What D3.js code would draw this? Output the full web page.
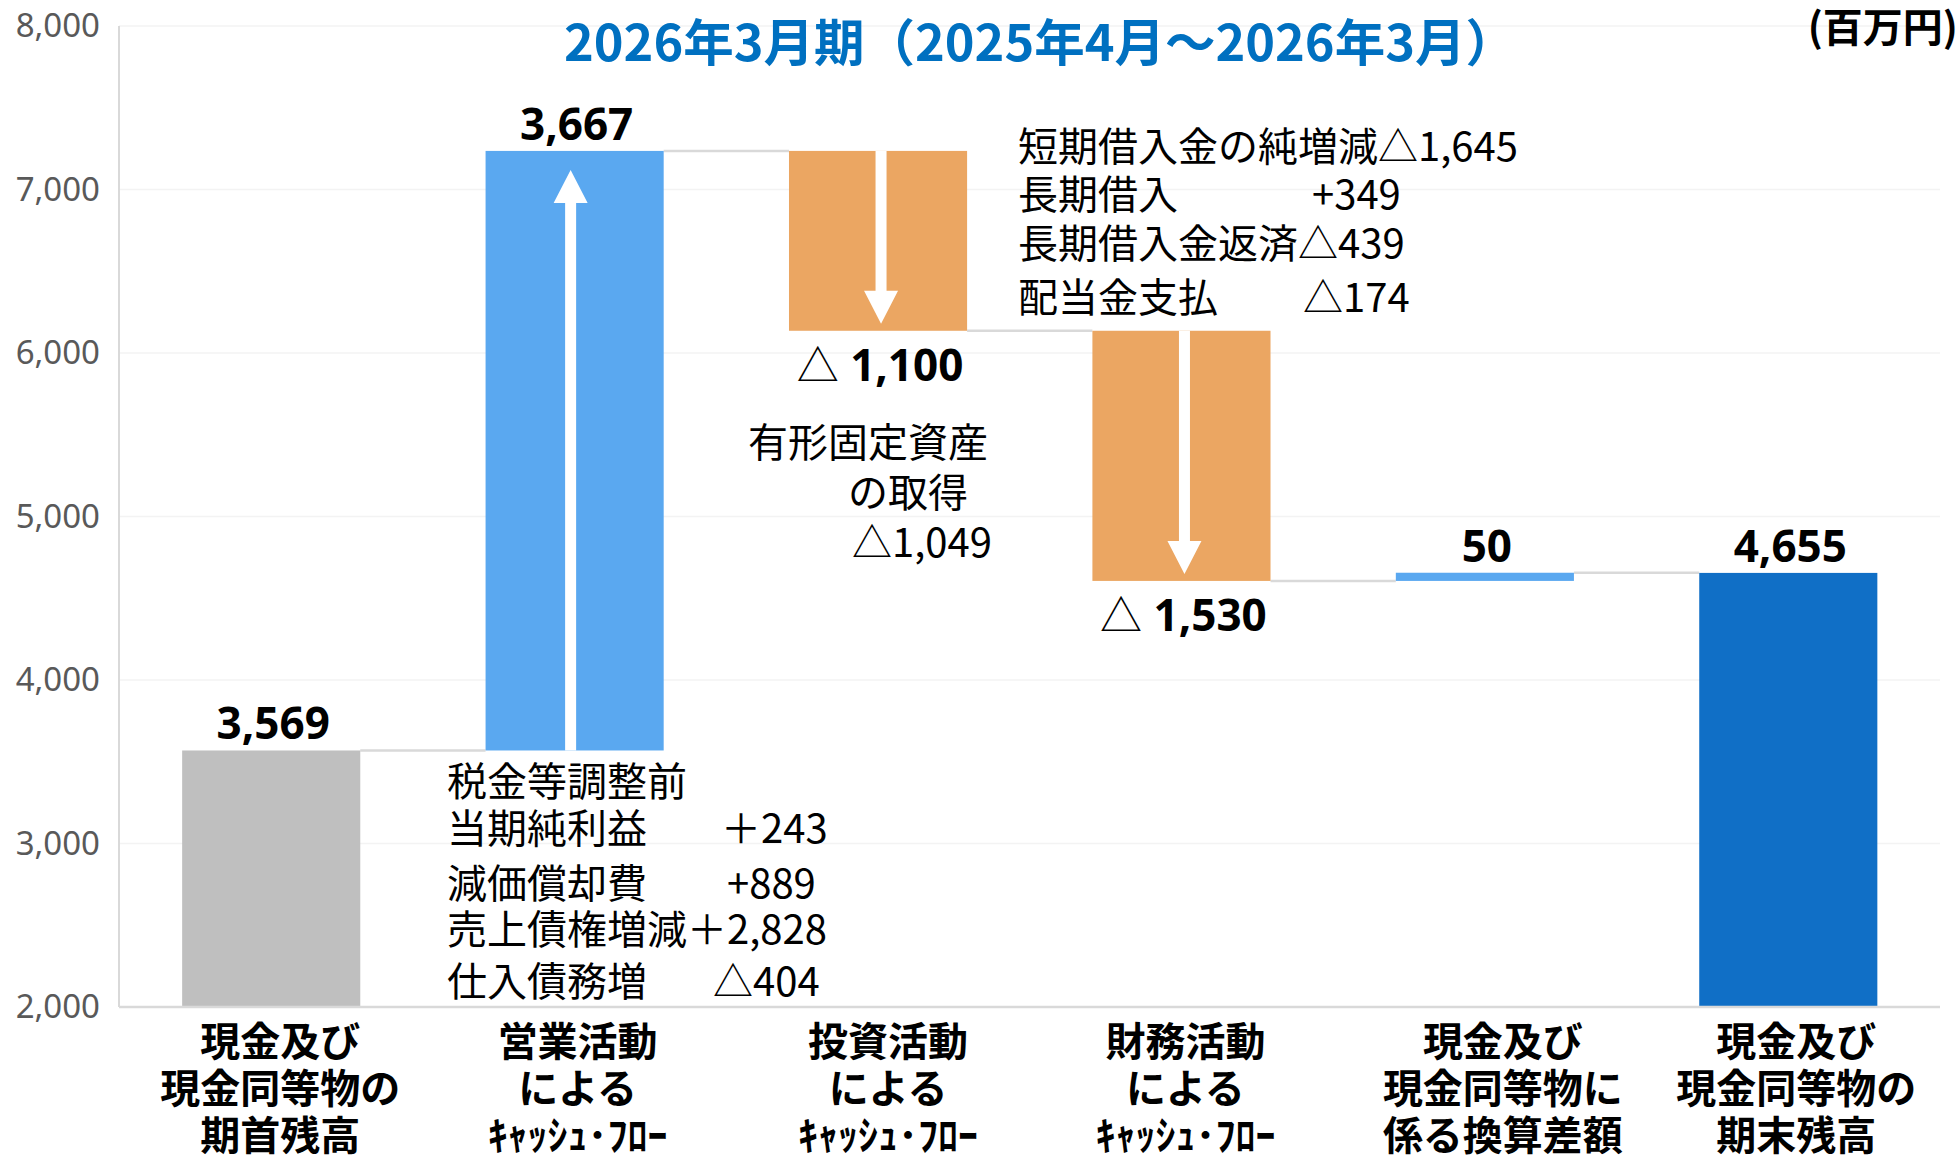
<!DOCTYPE html>
<html><head><meta charset="utf-8">
<script src="https://cdn.jsdelivr.net/npm/d3@7"></script>
<style>html,body{margin:0;padding:0;background:#fff;}svg{display:block;}</style>
</head><body>
<script>
// ---------- data ----------
const categories = [
  ["現金及び","現金同等物の","期首残高"],
  ["営業活動","による","ｷｬｯｼｭ･ﾌﾛｰ"],
  ["投資活動","による","ｷｬｯｼｭ･ﾌﾛｰ"],
  ["財務活動","による","ｷｬｯｼｭ･ﾌﾛｰ"],
  ["現金及び","現金同等物に","係る換算差額"],
  ["現金及び","現金同等物の","期末残高"]
];
const values = [3569, 3667, -1100, -1530, 50, 4655];
const kinds = ["start", "delta", "delta", "delta", "delta", "end"];
const yTicks = [2000, 3000, 4000, 5000, 6000, 7000, 8000];
const titleText = "2026年3月期（2025年4月～2026年3月）";
const unitText = "(百万円)";
const opNotes = [
  ["税金等調整前", ""],
  ["当期純利益", "＋243"],
  ["減価償却費", "+889"],
  ["売上債権増減＋2,828", ""],
  ["仕入債務増", "△404"]
];
const invNotes = ["有形固定資産", "の取得", "△1,049"];
const finNotes = [
  ["短期借入金の純増減△1,645", ""],
  ["長期借入", "+349"],
  ["長期借入金返済△439", ""],
  ["配当金支払", "△174"]
];

// ---------- layout ----------
const W = 1959, H = 1160;
const colors = {start: "#bfbfbf", pos: "#5aa8f0", neg: "#eba662", end: "#106fc6"};
const CJK = "'Noto Sans CJK JP', 'Noto Sans', sans-serif";
const catLabelShift = [9, 3, 10, 4, 18, 8];
const svg = d3.select("body").append("svg").attr("width", W).attr("height", H);

const y = d3.scaleLinear().domain([2000, 8000]).range([1007, 26]);
const x = d3.scaleBand().domain(d3.range(categories.length))
  .range([119.5, 1940]).paddingInner(0.413).paddingOuter(0.2065);

// waterfall geometry
let run = 0;
const bars = values.map((v, i) => {
  let lo, hi;
  if (kinds[i] === "delta") { const a = run, b = run + v; lo = Math.min(a, b); hi = Math.max(a, b); run = b; }
  else { lo = 2000; hi = v; run = v; }
  return {i, v, kind: kinds[i], lo, hi, after: run};
});

// gridlines
svg.append("g").selectAll("line").data(yTicks.slice(1)).join("line")
  .attr("x1", 119).attr("x2", 1940).attr("y1", d => y(d)).attr("y2", d => y(d))
  .attr("stroke", "#f3f3f3").attr("stroke-width", 1.5);

// y axis
const yAxis = d3.axisLeft(y).tickValues(yTicks).tickFormat(d3.format(",")).tickSize(0).tickPadding(19);
const gy = svg.append("g").attr("transform", "translate(119,0)").call(yAxis);
gy.select(".domain").remove();
gy.selectAll("text").attr("font-family", "'Noto Sans', sans-serif").attr("font-size", 33).attr("fill", "#595959");
svg.append("line").attr("x1", 119).attr("x2", 119).attr("y1", 26).attr("y2", 1007)
  .attr("stroke", "#d9d9d9").attr("stroke-width", 2);

// connectors
svg.append("g").selectAll("line").data(bars.slice(0, -1)).join("line")
  .attr("x1", d => x(d.i) + x.bandwidth()).attr("x2", d => x(d.i + 1))
  .attr("y1", d => y(d.after)).attr("y2", d => y(d.after))
  .attr("stroke", "#d9d9d9").attr("stroke-width", 2.5);

// bars
svg.append("g").selectAll("rect").data(bars).join("rect")
  .attr("x", d => x(d.i)).attr("width", x.bandwidth())
  .attr("y", d => y(d.hi)).attr("height", d => y(d.lo) - y(d.hi))
  .attr("fill", d => d.kind === "start" ? colors.start : d.kind === "end" ? colors.end : (d.v >= 0 ? colors.pos : colors.neg));

// baseline
svg.append("line").attr("x1", 119).attr("x2", 1940).attr("y1", 1007).attr("y2", 1007)
  .attr("stroke", "#d9d9d9").attr("stroke-width", 2.5);

// arrows (only on large delta bars)
const arrowBars = bars.filter(d => d.kind === "delta" && Math.abs(d.v) > 500);
svg.append("g").selectAll("path").data(arrowBars).join("path")
  .attr("fill", "#fff")
  .attr("d", d => {
    const up = d.v > 0;
    const cx = x(d.i) + x.bandwidth() / 2 + (up ? -4 : 3);
    const sw = 5.5, hw = 17, hl = 33;
    if (up) {
      const y0 = y(d.lo), tip = y(d.hi) + 19, hb = tip + hl;
      return `M${cx - sw},${y0}L${cx - sw},${hb}L${cx - hw},${hb}L${cx},${tip}L${cx + hw},${hb}L${cx + sw},${hb}L${cx + sw},${y0}Z`;
    } else {
      const y0 = y(d.hi), tip = y(d.lo) - 7, hb = tip - hl;
      return `M${cx - sw},${y0}L${cx - sw},${hb}L${cx - hw},${hb}L${cx},${tip}L${cx + hw},${hb}L${cx + sw},${hb}L${cx + sw},${y0}Z`;
    }
  });

// value labels
const fmt = d3.format(",");
const vl = svg.append("g").selectAll("text").data(bars).join("text")
  .attr("text-anchor", "middle")
  .attr("x", d => x(d.i) + x.bandwidth() / 2 + 2)
  .attr("y", d => d.v < 0 ? y(d.lo) + 50 : y(d.hi) - 11)
  .attr("font-family", "'Noto Sans', sans-serif").attr("font-weight", 700).attr("font-size", 44).attr("fill", "#000");
vl.each(function(d) {
  const t = d3.select(this);
  if (d.v < 0) {
    t.append("tspan").attr("font-family", CJK).attr("font-weight", 400).attr("font-size", 42).text("△");
    t.append("tspan").text(" " + fmt(-d.v));
  } else t.text(fmt(d.v));
});

// category labels
const cl = svg.append("g").selectAll("text").data(categories).join("text")
  .attr("text-anchor", "middle").attr("font-family", CJK).attr("font-weight", 700)
  .attr("font-size", 40).attr("fill", "#000")
  .attr("transform", (d, i) => `translate(${x(i) + x.bandwidth() / 2 + catLabelShift[i]},0)`);
cl.selectAll("tspan").data(d => d).join("tspan")
  .attr("x", 0).attr("y", (d, j) => 1056 + j * 47).text(d => d);

// title & unit
svg.append("text").attr("x", 1040).attr("y", 61).attr("text-anchor", "middle")
  .attr("font-family", CJK).attr("font-weight", 700).attr("font-size", 50.5).attr("fill", "#0070c0").text(titleText);
svg.append("text").attr("x", 1958).attr("y", 42).attr("text-anchor", "end")
  .attr("font-family", CJK).attr("font-weight", 700).attr("font-size", 40).attr("fill", "#000").text(unitText);

// annotations
const noteFont = t => t.attr("font-family", CJK).attr("font-size", 40).attr("fill", "#000");
const opY = [796, 843, 898, 944, 996], opNumX = [0, 721, 727, 0, 713];
opNotes.forEach((r, k) => {
  noteFont(svg.append("text").attr("x", 447).attr("y", opY[k])).text(r[0]);
  if (r[1]) noteFont(svg.append("text").attr("x", opNumX[k]).attr("y", opY[k])).text(r[1]);
});
const invX = [748, 848, 852], invY = [457, 507, 557];
invNotes.forEach((s, k) => noteFont(svg.append("text").attr("x", invX[k]).attr("y", invY[k])).text(s));
const finY = [161, 209, 258, 312], finNumX = [0, 1312, 0, 1303];
finNotes.forEach((r, k) => {
  noteFont(svg.append("text").attr("x", 1018).attr("y", finY[k])).text(r[0]);
  if (r[1]) noteFont(svg.append("text").attr("x", finNumX[k]).attr("y", finY[k])).text(r[1]);
});
</script>
</body></html>
